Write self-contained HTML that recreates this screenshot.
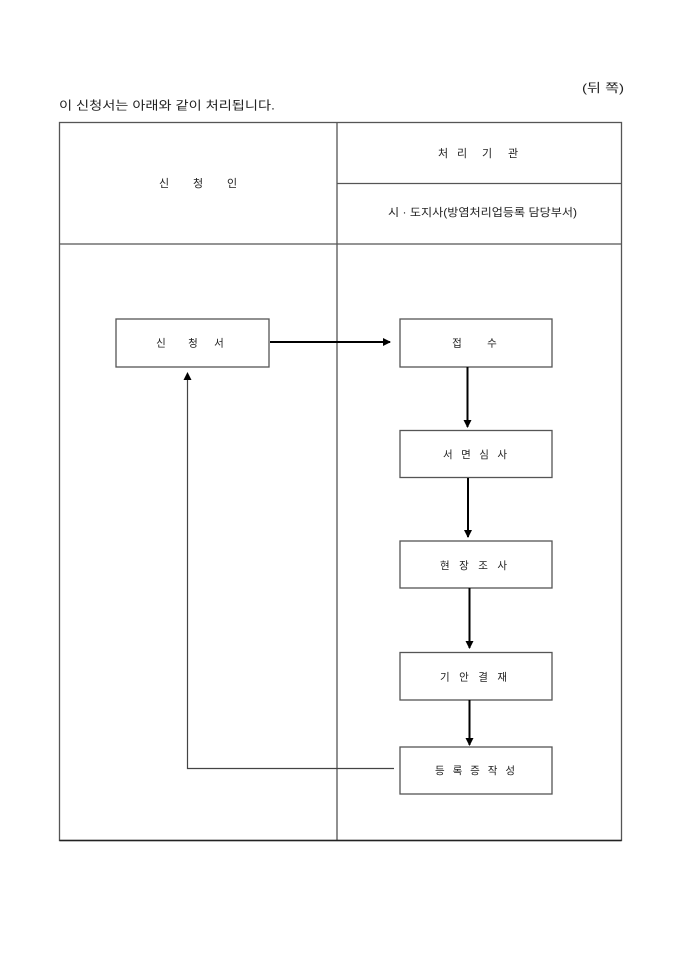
<!DOCTYPE html>
<html>
<head>
<meta charset="utf-8">
<style>
  html,body{margin:0;padding:0;background:#fff;}
  svg{display:block;}
  text{font-family:"Liberation Sans","Noto Sans CJK KR",sans-serif;fill:#222;}
</style>
</head>
<body>
<svg width="680" height="962" viewBox="0 0 680 962" xmlns="http://www.w3.org/2000/svg">
  <defs>
    <marker id="ah" markerWidth="8" markerHeight="8" refX="7" refY="4" orient="auto" markerUnits="userSpaceOnUse">
      <path d="M0,0 L8,4 L0,8 z" fill="#000"/>
    </marker>
  </defs>

  <!-- top texts -->
  <text x="582" y="92" font-size="12" textLength="42" lengthAdjust="spacingAndGlyphs">(뒤 쪽)</text>
  <text x="59" y="109.5" font-size="12" textLength="216" lengthAdjust="spacingAndGlyphs">이 신청서는 아래와 같이 처리됩니다.</text>

  <!-- table -->
  <g stroke="#555" stroke-width="1.3" fill="none">
    <rect x="59.5" y="122.5" width="562" height="718"/>
    <line x1="337" y1="122.5" x2="337" y2="840.5"/>
    <line x1="337" y1="183.5" x2="621.5" y2="183.5"/>
    <line x1="59.5" y1="244" x2="621.5" y2="244"/>
  </g>
  <line x1="59.5" y1="840.5" x2="621.5" y2="840.5" stroke="#222" stroke-width="1.5"/>

  <!-- header texts -->
  <g font-size="11" text-anchor="middle">
    <text x="164" y="187">신</text>
    <text x="198" y="187">청</text>
    <text x="232" y="187">인</text>
    <text x="443" y="157">처</text>
    <text x="462" y="157">리</text>
    <text x="487" y="157">기</text>
    <text x="513" y="157">관</text>
  </g>
  <text x="388" y="216" font-size="11" textLength="189" lengthAdjust="spacingAndGlyphs">시 · 도지사(방염처리업등록 담당부서)</text>

  <!-- boxes -->
  <g stroke="#555" stroke-width="1.3" fill="#fff">
    <rect x="116" y="319" width="153" height="48"/>
    <rect x="400" y="319" width="152" height="48"/>
    <rect x="400" y="430.5" width="152" height="47"/>
    <rect x="400" y="541" width="152" height="47"/>
    <rect x="400" y="652.5" width="152" height="47.5"/>
    <rect x="400" y="747" width="152" height="47"/>
  </g>

  <!-- box labels -->
  <g font-size="10.5" text-anchor="middle">
    <text x="161" y="346.5">신</text>
    <text x="193" y="346.5">청</text>
    <text x="219" y="346.5">서</text>
    <text x="457" y="346.5">접</text>
    <text x="492" y="346.5">수</text>
  </g>
  <g font-size="10.5">
    <text x="443" y="458" textLength="64" lengthAdjust="spacing">서 면 심 사</text>
    <text x="440" y="569" textLength="67" lengthAdjust="spacing">현 장 조 사</text>
    <text x="440" y="680.5" textLength="67" lengthAdjust="spacing">기 안 결 재</text>
    <text x="435" y="774" textLength="80" lengthAdjust="spacing">등 록 증 작 성</text>
  </g>

  <!-- arrows -->
  <g stroke="#000" stroke-width="2" fill="none">
    <line x1="270" y1="342" x2="390" y2="342" marker-end="url(#ah)"/>
    <line x1="467.5" y1="367" x2="467.5" y2="427" marker-end="url(#ah)"/>
    <line x1="468" y1="478" x2="468" y2="537" marker-end="url(#ah)"/>
    <line x1="469.5" y1="588" x2="469.5" y2="648" marker-end="url(#ah)"/>
    <line x1="469.5" y1="700" x2="469.5" y2="745" marker-end="url(#ah)"/>
  </g>

  <!-- return path -->
  <polyline points="394,768.5 187.5,768.5 187.5,378" stroke="#444" stroke-width="1.2" fill="none"/>
  <path d="M183.5,380 L187.5,372 L191.5,380 z" fill="#000"/>
</svg>
</body>
</html>
